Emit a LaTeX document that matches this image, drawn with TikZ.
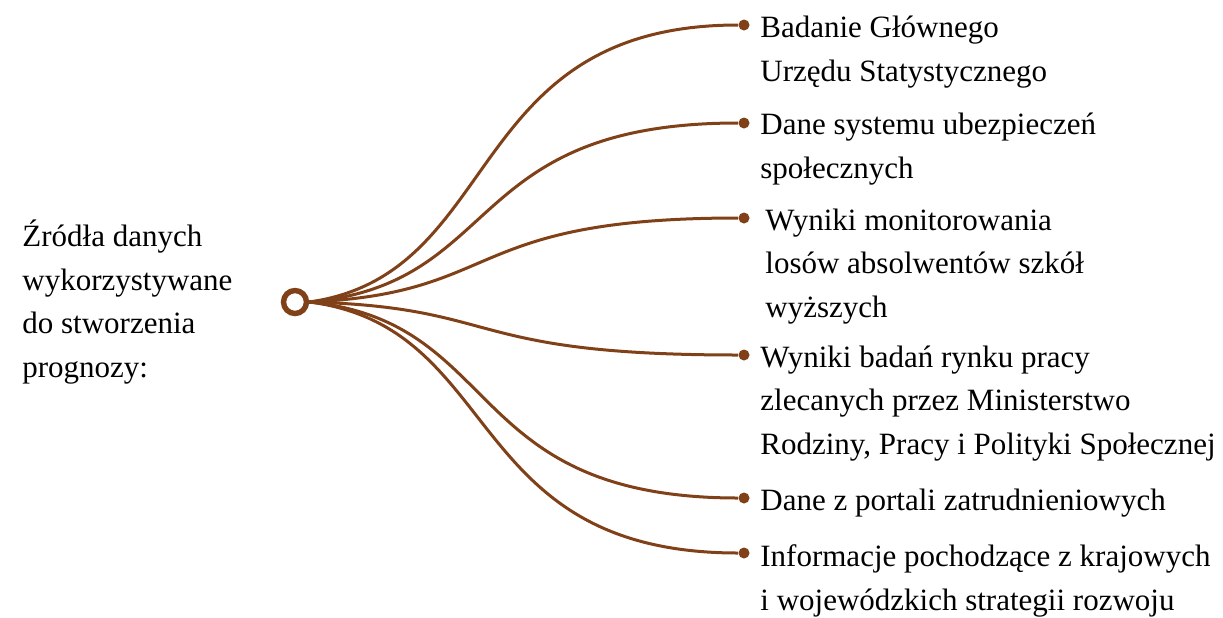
\documentclass[tikz,border=0pt]{standalone}
\usepackage{fontspec}
\setmainfont{Liberation Serif}
\usepackage{tikz}
\usetikzlibrary{positioning}
\definecolor{lineBrown}{RGB}{128,64,24}

\begin{document}
\begin{tikzpicture}[x=0.5pt,y=-0.5pt]
	\tikzstyle{hub}=[circle, draw=lineBrown, line width=2.7pt, minimum size=11.5pt, inner sep=0pt]
	\tikzstyle{dot}=[circle, fill=lineBrown, minimum size=5.5pt, inner sep=0pt]
	\tikzstyle{source}=[anchor=base west, align=left, inner sep=0pt, font=\fontsize{15.5}{21.75}\selectfont]
	\tikzstyle{link}=[draw=lineBrown, line width=1.5pt]

	\useasboundingbox (0,0) rectangle (1223,617);

	\node [source] (title) at (22,377) {Źródła danych\\wykorzystywane\\do stworzenia\\prognozy:};
	\node [hub] (hub) at (295,302) {};

	\node [dot] (d1) at (744,25) {};
	\node [dot] (d2) at (744,123) {};
	\node [dot] (d3) at (744,218) {};
	\node [dot] (d4) at (744,355) {};
	\node [dot] (d5) at (744,498) {};
	\node [dot] (d6) at (744,553) {};

	% base anchor = last line
	\node [source] (s1) at (760,81) {Badanie Głównego\\Urzędu Statystycznego};
	\node [source] (s2) at (760,178) {Dane systemu ubezpieczeń\\społecznych};
	\node [source] (s3) at (765,317) {Wyniki monitorowania\\losów absolwentów szkół\\wyższych};
	\node [source] (s4) at (760,454) {Wyniki badań rynku pracy\\zlecanych przez Ministerstwo\\Rodziny, Pracy i Polityki Społecznej};
	\node [source] (s5) at (760,510) {Dane z portali zatrudnieniowych};
	\node [source] (s6) at (760,610) {Informacje pochodzące z krajowych\\i wojewódzkich strategii rozwoju};

	\foreach \d/\dy in {d1/-277, d2/-179, d3/-84, d4/53, d5/196, d6/251}
		\draw [link] (hub.east) .. controls +(196,0.1*\dy) and +(-283,0) .. (\d);
\end{tikzpicture}
\end{document}
